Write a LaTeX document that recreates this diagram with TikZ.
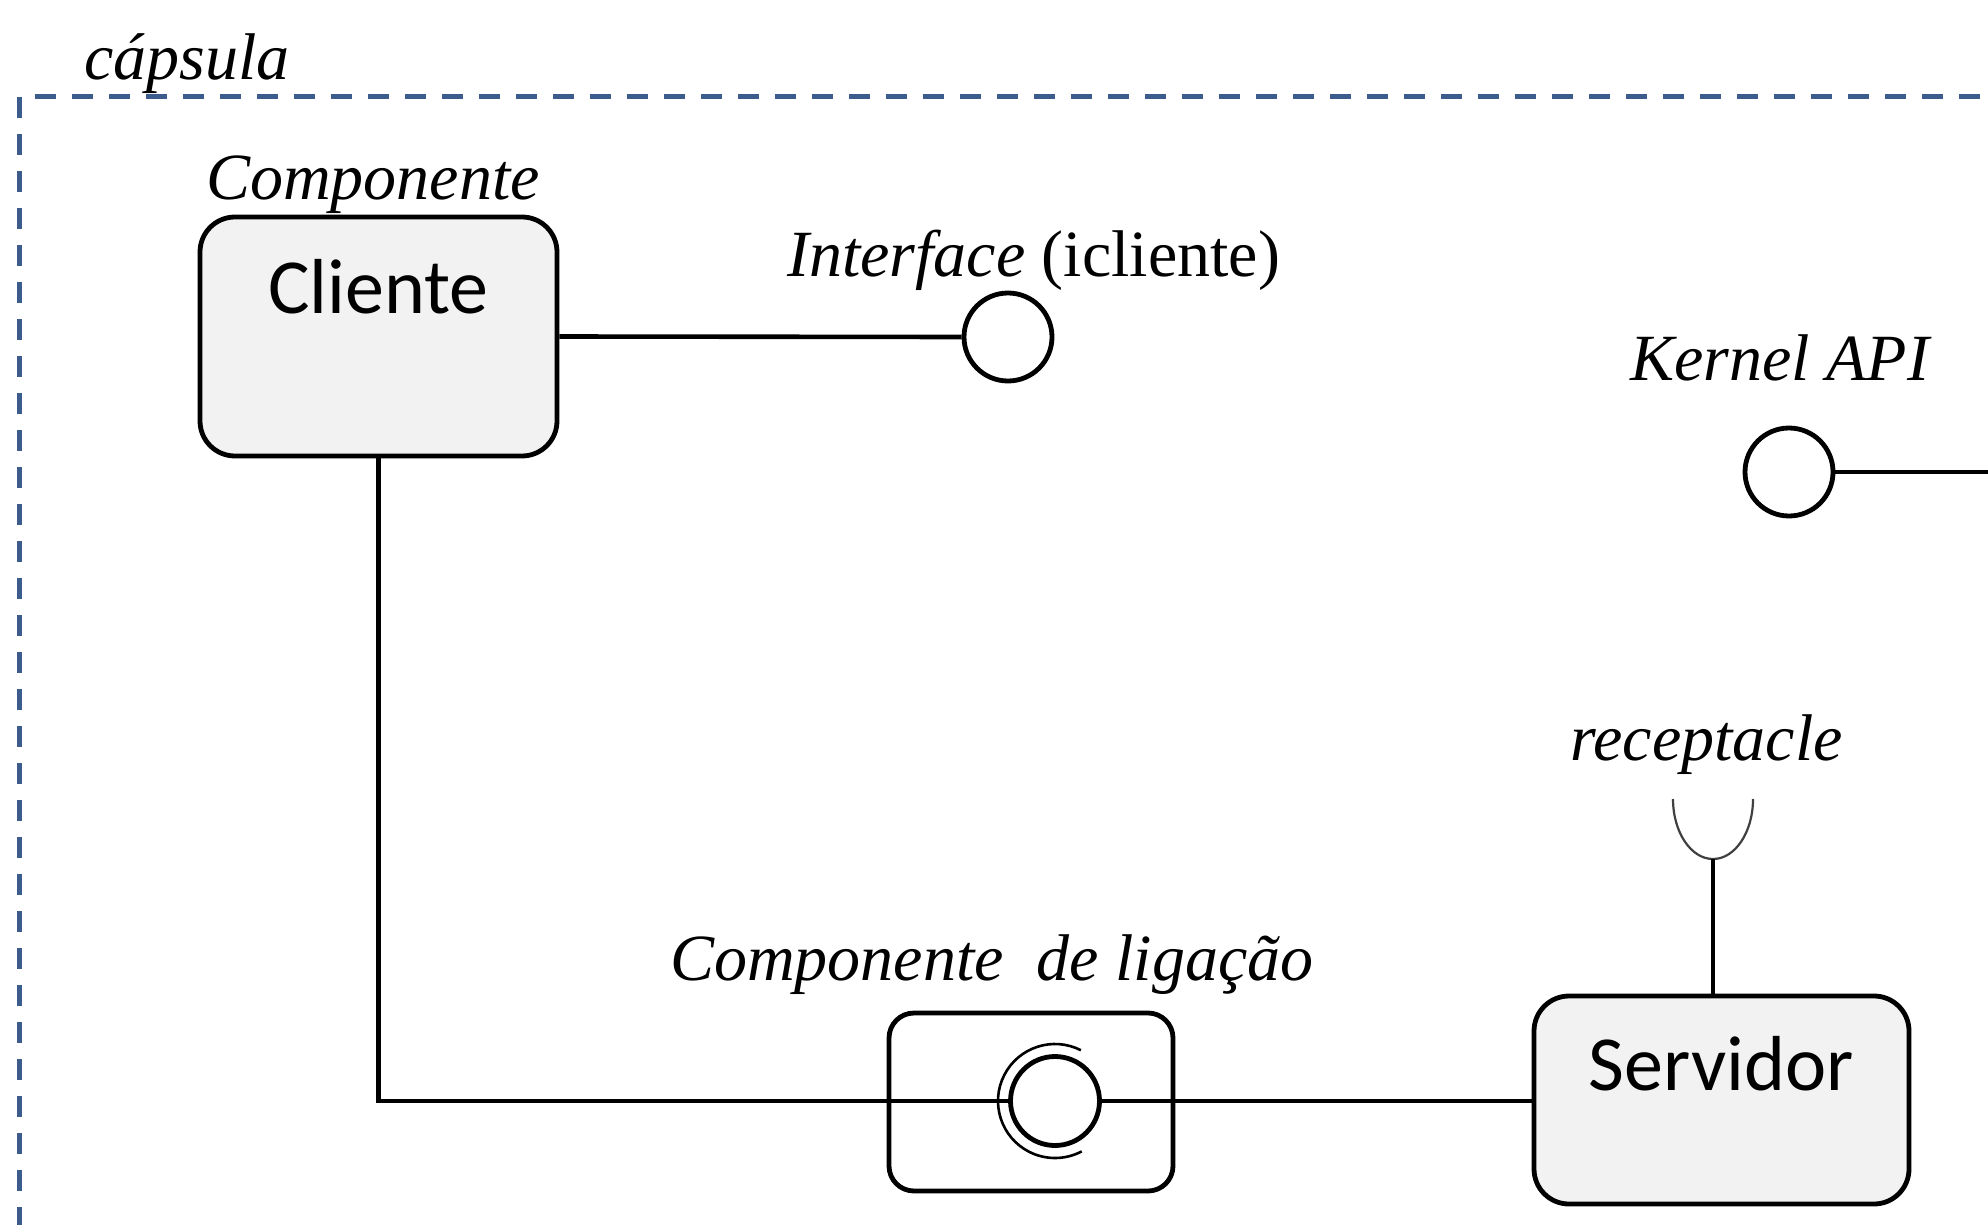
\documentclass[tikz,border=0pt]{standalone}
\usepackage{fontspec}
\setmainfont{Liberation Serif}
\newfontfamily\calib{Carlito}
\usetikzlibrary{calc}
\definecolor{capblue}{RGB}{59,92,140}
\definecolor{boxgray}{RGB}{242,242,242}
\begin{document}
\begin{tikzpicture}[x=1pt,y=-1pt,
  lbl/.style={inner sep=0pt,anchor=base west,font=\fontsize{66}{78}\selectfont\itshape},
  comp/.style={draw,line width=4.8pt,rounded corners=35pt,fill=boxgray,inner sep=0pt},
  cname/.style={inner sep=0pt,anchor=base,font=\calib\fontsize{78}{90}\selectfont},
  lolly/.style={draw,circle,line width=4.8pt,minimum size=88pt,inner sep=0pt,fill=white},
  wire/.style={line width=4.6pt},
  capsule/.style={draw=capblue,line width=5pt,dash pattern=on 21pt off 16pt}]
\useasboundingbox (0,0) rectangle (1988,1225);

% capsule border
\coordinate (capc) at (19,97);
\coordinate (capb) at (19,1225);
\coordinate (capr) at (1988,97);
\draw[capsule] (capc) -- (capb);
\draw[capsule,dash phase=21pt] (capc) -- (capr);
\node[lbl] (capl) at (84,80) {cápsula};

% Cliente
\node[lbl] (compl) at (206,200) {Componente};
\node[comp,minimum width=357pt,minimum height=239pt] (cli) at (378.5,336.5) {};
\node[cname] (clit) at (378.5,313) {Cliente};

% Interface
\node[lolly] (iface) at (1008,337) {};
\node[lbl] (ifacel) at (787,276) {Interface \upshape(icliente)};
\draw[wire] (cli.east) -- (iface.west);

% Kernel API
\node[lolly] (kern) at (1789,472) {};
\coordinate (kend) at (1988,472);
\node[lbl] (kernl) at (1630,380) {Kernel API};
\draw[wire] (kern.east) -- (kend);

% Servidor
\node[comp,minimum width=375pt,minimum height=208pt] (srv) at (1721.5,1100) {};
\node[cname] (srvt) at (1721,1090) {Servidor};

% receptacle
\node[lbl] (recl) at (1570,760) {receptacle};
\coordinate (cupl) at (1673,799);
\coordinate (cupb) at (1713,859);
\draw[line width=2.2pt,draw=black!75] (cupl) arc[start angle=180,end angle=360,x radius=40pt,y radius=60pt];
\draw[wire] (cupb) -- (cupb |- srv.north);

% Componente de ligacao
\node[lbl] (ligl) at (670,980) {Componente\hspace{33pt}de ligação};
\node[draw,line width=4.8pt,rounded corners=25pt,fill=white,minimum width=284pt,minimum height=178pt,inner sep=0pt] (lig) at (1031,1102) {};
\node[draw,circle,line width=4.8pt,minimum size=89pt,inner sep=0pt] (plug) at (1055,1101) {};
\draw[line width=2.6pt] ($(plug.center)+(63:57pt)$) arc[start angle=63,end angle=298,radius=57pt];

% connectors
\draw[wire] (cli.south) |- (plug.west);
\draw[wire] (plug.east) -- (srv.west |- plug.east);
\end{tikzpicture}
\end{document}
